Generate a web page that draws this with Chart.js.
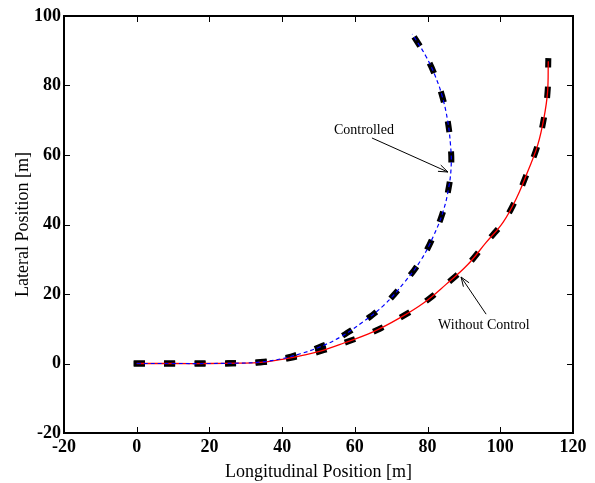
<!DOCTYPE html>
<html>
<head>
<meta charset="utf-8">
<script src="https://cdn.jsdelivr.net/npm/chart.js@4.4.1/dist/chart.umd.min.js"></script>
<style>
  html, body { margin: 0; padding: 0; background: #ffffff; }
  #wrap { width: 595px; height: 483px; }
</style>
</head>
<body>
<div id="wrap"><canvas id="pathChart" width="595" height="483"></canvas></div>
<script>
// trajectory (x = longitudinal, y = lateral, metres)
const controlledX = [0, 10, 20, 28, 34, 40, 45, 50, 56, 62, 68, 73.5, 78.2, 81.5, 84.2, 85.8, 86.5, 86.3, 85.5, 84.0, 82.0, 79.5, 75.8];
const controlledY = [0, 0, 0, 0.1, 0.4, 1.4, 2.8, 4.6, 7.6, 11.8, 16.8, 23.2, 29.8, 36.4, 43.5, 50.5, 57, 63, 70, 77, 83, 88.5, 94.8];

const uncontrolledX = [0, 10, 20, 28, 34, 40, 45, 50, 57, 65, 72, 79, 85, 91, 96, 100.8, 104.6, 107.6, 110.3, 112, 113, 113.2];
const uncontrolledY = [0, 0, 0, 0.1, 0.3, 1.2, 2.2, 3.4, 5.9, 9.1, 12.9, 17.5, 22.7, 28.4, 34.7, 40.7, 47.9, 55.4, 62.9, 70.6, 78.1, 87];

const xTicks = [-20, 0, 20, 40, 60, 80, 100, 120];
const yTicks = [-20, 0, 20, 40, 60, 80, 100];

function toPoints(xs, ys) {
  return xs.map(function(x, i) { return { x: x, y: ys[i] }; });
}

// frame with inward tick marks on all four sides, plus arrow annotations
const framePlugin = {
  id: 'matlab_frame',

  drawArrow: function(ctx, x1, y1, x2, y2) {
    ctx.beginPath();
    ctx.moveTo(x1, y1);
    ctx.lineTo(x2, y2);
    ctx.stroke();
    const ang = Math.atan2(y2 - y1, x2 - x1);
    const len = 10, spread = 0.35;
    ctx.beginPath();
    ctx.moveTo(x2 - len * Math.cos(ang - spread), y2 - len * Math.sin(ang - spread));
    ctx.lineTo(x2, y2);
    ctx.lineTo(x2 - len * Math.cos(ang + spread), y2 - len * Math.sin(ang + spread));
    ctx.stroke();
  },

  afterDatasetsDraw: function(chart, args, options) {
    const ctx = chart.ctx;
    const sx = chart.scales.x;
    const sy = chart.scales.y;
    const a = chart.chartArea;
    const tick = 6;

    ctx.save();
    ctx.strokeStyle = '#000000';
    ctx.lineWidth = 1;
    xTicks.forEach(function(v) {
      const px = Math.round(sx.getPixelForValue(v)) + 0.5;
      ctx.beginPath();
      ctx.moveTo(px, a.bottom); ctx.lineTo(px, a.bottom - tick);
      ctx.moveTo(px, a.top); ctx.lineTo(px, a.top + tick);
      ctx.stroke();
    });
    yTicks.forEach(function(v) {
      const py = Math.round(sy.getPixelForValue(v)) + 0.5;
      ctx.beginPath();
      ctx.moveTo(a.left, py); ctx.lineTo(a.left + tick, py);
      ctx.moveTo(a.right, py); ctx.lineTo(a.right - tick, py);
      ctx.stroke();
    });

    ctx.lineWidth = 2;
    ctx.strokeRect(a.left, a.top, a.right - a.left, a.bottom - a.top);

    // annotations
    ctx.lineWidth = 1;
    ctx.fillStyle = '#000000';
    ctx.font = '14px "Liberation Serif"';
    ctx.textAlign = 'center';
    ctx.textBaseline = 'middle';
    (options.notes || []).forEach(function(n) {
      ctx.fillText(n.text, sx.getPixelForValue(n.tx), sy.getPixelForValue(n.ty));
      framePlugin.drawArrow(ctx,
        sx.getPixelForValue(n.fromX), sy.getPixelForValue(n.fromY),
        sx.getPixelForValue(n.toX), sy.getPixelForValue(n.toY));
    });
    ctx.restore();
  }
};

function initChart() {
  Chart.register(framePlugin);
  const ctx = document.getElementById('pathChart');

  const thickDash = {
    borderColor: '#000000',
    borderWidth: 6,
    borderDash: [5, 25.5],
    borderCapStyle: 'square',
    pointRadius: 0,
    showLine: true,
    fill: false,
    tension: 0.4
  };

  return new Chart(ctx, {
    type: 'scatter',
    data: {
      datasets: [{
        label: 'Controlled',
        data: toPoints(controlledX, controlledY),
        borderColor: '#0000ff',
        borderWidth: 1.2,
        borderDash: [4, 3],
        pointRadius: 0,
        showLine: true,
        fill: false,
        tension: 0.4
      }, {
        label: 'Without Control',
        data: toPoints(uncontrolledX, uncontrolledY),
        borderColor: '#ff0000',
        borderWidth: 1.3,
        pointRadius: 0,
        showLine: true,
        fill: false,
        tension: 0.4
      }, Object.assign({ label: 'Controlled (ref)', data: toPoints(controlledX, controlledY) }, thickDash),
         Object.assign({ label: 'Without Control (ref)', data: toPoints(uncontrolledX, uncontrolledY) }, thickDash)]
    },
    options: {
      responsive: false,
      animation: false,
      events: [],
      layout: {
        padding: { top: 16, right: 22, left: 0, bottom: 0 }
      },
      scales: {
        x: {
          type: 'linear',
          min: -20,
          max: 120,
          afterBuildTicks: function(scale) {
            scale.ticks = xTicks.map(function(v) { return { value: v }; });
          },
          afterFit: function(scale) { scale.height = 50; },
          grid: { display: false, drawTicks: false },
          border: { display: false },
          ticks: {
            color: '#000000',
            padding: 4,
            maxRotation: 0,
            font: { family: '"Liberation Serif"', size: 18, weight: 'bold' }
          },
          title: {
            display: true,
            text: 'Longitudinal Position [m]',
            color: '#000000',
            padding: { top: 0, bottom: 0 },
            font: { family: '"Liberation Serif"', size: 18 }
          }
        },
        y: {
          type: 'linear',
          min: -20,
          max: 100,
          afterBuildTicks: function(scale) {
            scale.ticks = yTicks.map(function(v) { return { value: v }; });
          },
          afterFit: function(scale) { scale.width = 64; },
          grid: { display: false, drawTicks: false },
          border: { display: false },
          ticks: {
            color: '#000000',
            padding: 3,
            font: { family: '"Liberation Serif"', size: 18, weight: 'bold' }
          },
          title: {
            display: true,
            text: 'Lateral Position [m]',
            color: '#000000',
            padding: { top: 12, bottom: 0 },
            font: { family: '"Liberation Serif"', size: 18 }
          }
        }
      },
      plugins: {
        legend: { display: false },
        tooltip: { enabled: false },
        matlab_frame: {
          notes: [
            { text: 'Controlled', tx: 62.5, ty: 67.2, fromX: 64.7, fromY: 64.9, toX: 85.6, toY: 55.1 },
            { text: 'Without Control', tx: 95.5, ty: 11.1, fromX: 96.1, fromY: 14.2, toX: 89.2, toY: 24.9 }
          ]
        }
      }
    }
  });
}

g_chart = initChart();
</script>
</body>
</html>
